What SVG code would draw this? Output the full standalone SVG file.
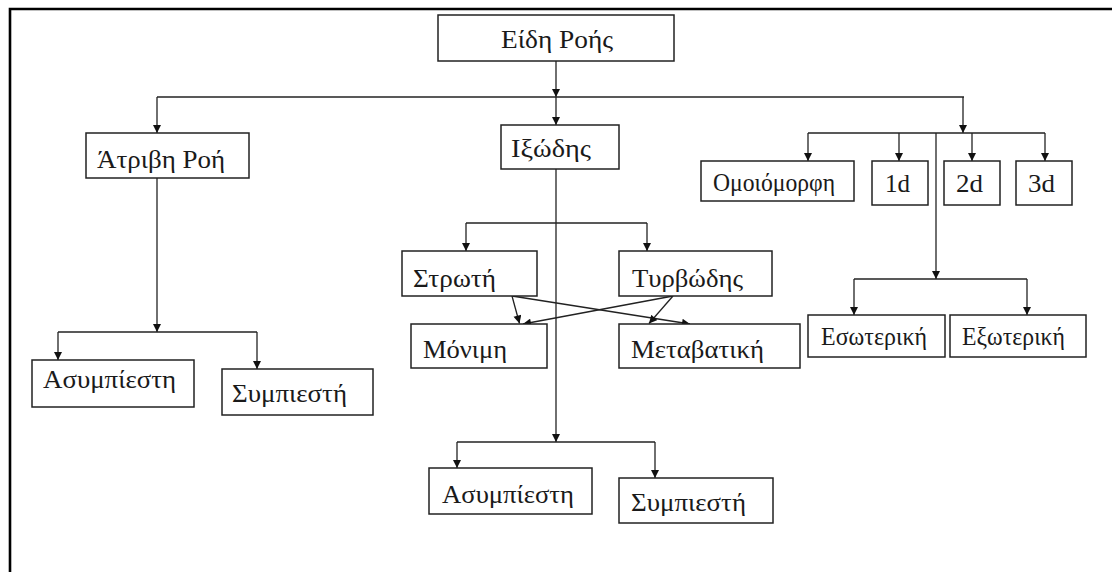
<svg xmlns="http://www.w3.org/2000/svg" width="1112" height="572" viewBox="0 0 1112 572">
<style>
.box{fill:#fff;stroke:#222;stroke-width:1.5}
.lbl{font-family:"Liberation Serif","Times New Roman",serif;font-size:26px;fill:#1a1a1a}
.ln{fill:none;stroke:#222;stroke-width:1.3}
.arr{fill:none;stroke:#222;stroke-width:1.3;marker-end:url(#ah)}
.frame{fill:none;stroke:#000;stroke-width:2.6}
</style>
<defs>
<marker id="ah" viewBox="0 0 10 10" refX="10" refY="5" markerWidth="9" markerHeight="8" markerUnits="userSpaceOnUse" orient="auto">
<path d="M0,0 L10,5 L0,10 z" fill="#111"/>
</marker>
</defs>
<rect width="1112" height="572" fill="#fff"/>
<path class="frame" d="M10,572 V9 H1112"/>
<g id="connectors">
<path class="arr" d="M556,61 V97"/>
<path class="arr" d="M556,97 V125"/>
<path class="ln" d="M157,97 H964"/>
<path class="arr" d="M157,97 V133"/>
<path class="arr" d="M963,97 V133"/>
<path class="ln" d="M808,133 H1045"/>
<path class="arr" d="M808,133 V161"/>
<path class="arr" d="M899,133 V161"/>
<path class="arr" d="M972,133 V161"/>
<path class="arr" d="M1045,133 V161"/>
<path class="arr" d="M936,133 V279"/>
<path class="ln" d="M854,279 H1027"/>
<path class="arr" d="M854,279 V315"/>
<path class="arr" d="M1027,279 V315"/>
<path class="arr" d="M157,178 V332"/>
<path class="ln" d="M58,332 H257"/>
<path class="arr" d="M58,332 V360"/>
<path class="arr" d="M257,332 V369"/>
<path class="arr" d="M556,169 V442"/>
<path class="ln" d="M457,442 H655"/>
<path class="arr" d="M457,442 V468"/>
<path class="arr" d="M655,442 V478"/>
<path class="ln" d="M466,223 H647"/>
<path class="arr" d="M466,223 V251"/>
<path class="arr" d="M647,223 V251"/>
<path class="arr" d="M512,296 L519.5,323.5"/>
<path class="arr" d="M512,296 L690,324"/>
<path class="arr" d="M673,296 L523,324"/>
<path class="arr" d="M673,296 L649,323.5"/>
</g>
<g id="n-eidi-rois"><rect class="box" x="438" y="15" width="236" height="46"/><text class="lbl" x="501" y="48" textLength="112" lengthAdjust="spacingAndGlyphs">Είδη Ροής</text></g>
<g id="n-atrivi"><rect class="box" x="86" y="133" width="163" height="45"/><text class="lbl" x="97" y="168" textLength="128" lengthAdjust="spacingAndGlyphs">Άτριβη Ροή</text></g>
<g id="n-ixodis"><rect class="box" x="501" y="125" width="118" height="44"/><text class="lbl" x="511" y="157" textLength="80" lengthAdjust="spacingAndGlyphs">Ιξώδης</text></g>
<g id="n-omoiomorfi"><rect class="box" x="701" y="161" width="153" height="40"/><text class="lbl" x="713" y="191" textLength="122" lengthAdjust="spacingAndGlyphs">Ομοιόμορφη</text></g>
<g id="n-1d"><rect class="box" x="872" y="161" width="56" height="44"/><text class="lbl" x="885" y="192" textLength="25" lengthAdjust="spacingAndGlyphs">1d</text></g>
<g id="n-2d"><rect class="box" x="944" y="161" width="56" height="44"/><text class="lbl" x="956" y="192" textLength="27" lengthAdjust="spacingAndGlyphs">2d</text></g>
<g id="n-3d"><rect class="box" x="1016" y="161" width="56" height="44"/><text class="lbl" x="1028" y="192" textLength="27" lengthAdjust="spacingAndGlyphs">3d</text></g>
<g id="n-esoteriki"><rect class="box" x="808" y="315" width="137" height="42"/><text class="lbl" x="821" y="345" textLength="106" lengthAdjust="spacingAndGlyphs">Εσωτερική</text></g>
<g id="n-exoteriki"><rect class="box" x="950" y="315" width="136" height="42"/><text class="lbl" x="962" y="345" textLength="103" lengthAdjust="spacingAndGlyphs">Εξωτερική</text></g>
<g id="n-asympiesti-1"><rect class="box" x="32" y="360" width="162" height="47"/><text class="lbl" x="43" y="388" textLength="133" lengthAdjust="spacingAndGlyphs">Ασυμπίεστη</text></g>
<g id="n-sympiesti-1"><rect class="box" x="222" y="369" width="151" height="46"/><text class="lbl" x="232" y="402" textLength="115" lengthAdjust="spacingAndGlyphs">Συμπιεστή</text></g>
<g id="n-stroti"><rect class="box" x="402" y="251" width="135" height="45"/><text class="lbl" x="413" y="287" textLength="83" lengthAdjust="spacingAndGlyphs">Στρωτή</text></g>
<g id="n-tyrvodis"><rect class="box" x="619" y="251" width="153" height="45"/><text class="lbl" x="632" y="287" textLength="111" lengthAdjust="spacingAndGlyphs">Τυρβώδης</text></g>
<g id="n-monimi"><rect class="box" x="411" y="324" width="136" height="44"/><text class="lbl" x="423" y="358" textLength="84" lengthAdjust="spacingAndGlyphs">Μόνιμη</text></g>
<g id="n-metavatiki"><rect class="box" x="619" y="324" width="181" height="44"/><text class="lbl" x="631" y="358" textLength="133" lengthAdjust="spacingAndGlyphs">Μεταβατική</text></g>
<g id="n-asympiesti-2"><rect class="box" x="429" y="468" width="163" height="46"/><text class="lbl" x="442" y="503" textLength="132" lengthAdjust="spacingAndGlyphs">Ασυμπίεστη</text></g>
<g id="n-sympiesti-2"><rect class="box" x="619" y="478" width="154" height="45"/><text class="lbl" x="631" y="511" textLength="115" lengthAdjust="spacingAndGlyphs">Συμπιεστή</text></g>
</svg>
